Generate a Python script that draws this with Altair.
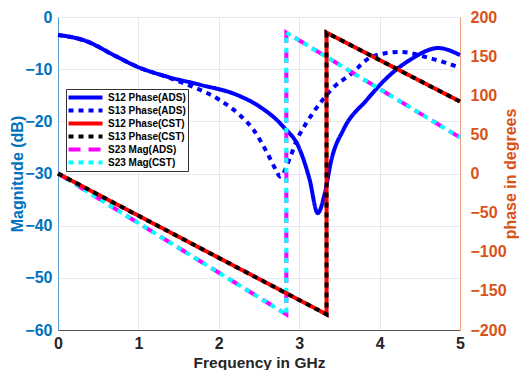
import altair as alt
import pandas as pd

# ---- data ----
freq_s12_ads = [0, 0.15, 0.31, 0.73, 0.98, 1.35, 1.77, 2.22, 2.51, 2.8, 3.01, 3.13, 3.23, 3.32, 3.40, 3.55, 3.84, 4.13, 4.38, 4.73, 5.0]
mag_s12_ads = [-3.45, -3.8, -4.4, -7.6, -9.5, -11.4, -13.0, -14.9, -17.2, -21.0, -25.5, -31.2, -37.6, -33.7, -27.4, -21.6, -15.9, -11.1, -8.2, -5.95, -7.3]

freq_s13_ads = [0, 0.15, 0.31, 0.73, 0.98, 1.35, 1.68, 2.01, 2.26, 2.43, 2.6, 2.72, 2.76, 2.89, 2.97, 3.09, 3.26, 3.42, 3.63, 3.92, 4.25, 4.63, 5.0]
mag_s13_ads = [-3.45, -3.8, -4.4, -7.6, -9.5, -11.5, -13.4, -15.9, -18.8, -21.6, -26.0, -29.6, -30.6, -26.8, -23.6, -20.3, -16.5, -13.6, -11.1, -7.5, -6.7, -7.9, -9.7]

freq_cst = [0, 3.34, 3.34, 5.0]
phase_cst = [0, -180, 180, 92]

freq_s23 = [0, 2.84, 2.84, 5.0]
phase_s23 = [0, -180, 180, 46]

series_names = ["S12 Phase(ADS)", "S13 Phase(ADS)", "S12 Phase(CST)",
                "S13 Phase(CST)", "S23 Mag(ADS)", "S23 Mag(CST)"]
series_colors = ["#0000ff", "#0000ff", "#ff0000", "#000000", "#ff00ff", "#00ffff"]
series_dash = [[1, 0], [5, 5], [1, 0], [5, 5], [12, 8], [5, 5]]

x_ticks = [0, 1, 2, 3, 4, 5]
mag_ticks = [-60, -50, -40, -30, -20, -10, 0]
phase_ticks = [-200, -150, -100, -50, 0, 50, 100, 150, 200]


def frame(name, f, v):
    return pd.DataFrame({"f": f, "v": v, "series": name, "idx": list(range(len(f)))})


FONT = "Liberation Sans"
BLUE = "#0072BD"
ORANGE = "#D95319"

legend = alt.Legend(
    title=None, orient="none", legendX=8, legendY=72,
    symbolType="M-1.33,0H6.22", symbolSize=81, symbolStrokeWidth=4,
    labelFont=FONT, labelFontSize=10, labelFontWeight="bold", labelColor="#000000",
    fillColor="#ffffff", strokeColor="#333333", padding=2, rowPadding=0,
    clipHeight=13, labelOffset=27, offset=0,
)

color = alt.Color("series:N", scale=alt.Scale(domain=series_names, range=series_colors), legend=legend)
dash = alt.StrokeDash("series:N", scale=alt.Scale(domain=series_names, range=series_dash), legend=legend)
order = alt.Order("idx:Q")

x_enc = alt.X(
    "f:Q", scale=alt.Scale(domain=[0, 5], nice=False),
    axis=alt.Axis(
        title="Frequency in GHz", values=x_ticks, grid=True, ticks=False,
        labelFlush=False, labelPadding=5, labelColor="#262626", titleColor="#262626",
        domainColor="#555555", titleX=201, titleY=37, titleBaseline="alphabetic",
        titleFontSize=15.5,
    ),
)

y_left = alt.Y(
    "v:Q", scale=alt.Scale(domain=[-60, 0], nice=False),
    axis=alt.Axis(
        title="Magnitude (dB)", orient="left", values=mag_ticks, grid=True, ticks=False,
        labelPadding=6, labelColor=BLUE, titleColor=BLUE, domainColor="#5b9fd4",
        titleAngle=270, titleX=-41, titleY=156.5, titleBaseline="middle", titleAlign="center",
    ),
)

y_right = alt.Y(
    "v:Q", scale=alt.Scale(domain=[-200, 200], nice=False),
    axis=alt.Axis(
        title="phase in degrees", orient="right", values=phase_ticks, grid=False, ticks=False,
        labelPadding=10, labelColor=ORANGE, titleColor=ORANGE, domainColor="#eaa080",
        titleAngle=270, titleX=50, titleY=156.5, titleBaseline="middle", titleAlign="center",
    ),
)


def line(df, y_enc, interp):
    return alt.Chart(df).mark_line(strokeWidth=4, strokeCap="butt", interpolate=interp).encode(
        x=x_enc, y=y_enc, color=color, strokeDash=dash, order=order
    )


left = alt.layer(
    line(frame(series_names[0], freq_s12_ads, mag_s12_ads), y_left, "monotone"),
    line(frame(series_names[1], freq_s13_ads, mag_s13_ads), y_left, "monotone"),
)

right = alt.layer(
    line(frame(series_names[4], freq_s23, phase_s23), y_right, "linear"),
    line(frame(series_names[5], freq_s23, phase_s23), y_right, "linear"),
    line(frame(series_names[2], freq_cst, phase_cst), y_right, "linear"),
    line(frame(series_names[3], freq_cst, phase_cst), y_right, "linear"),
)

chart = (
    alt.layer(left, right)
    .resolve_scale(y="independent")
    .properties(
        width=402, height=313,
        autosize=alt.AutoSizeParams(type="none"),
        padding={"left": 50, "top": 9, "right": 59, "bottom": 40},
        title=alt.TitleParams("(a)", font="Liberation Serif", fontSize=15, fontWeight="normal",
                              color="#000000", offset=2, anchor="middle", dx=5),
        background="#ffffff",
    )
    .configure_view(stroke="#dfe6ee", strokeWidth=1)
    .configure_axis(labelFont=FONT, titleFont=FONT, labelFontSize=16, titleFontSize=16,
                    labelFontWeight="bold", titleFontWeight="bold",
                    gridColor="#e4e9ef", gridWidth=1)
)

chart.save("out.html", embed_options={"renderer": "svg", "actions": False})
